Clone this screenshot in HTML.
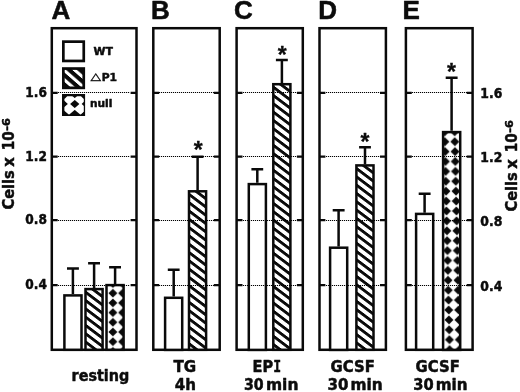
<!DOCTYPE html>
<html lang="en"><head><meta charset="utf-8"><title>Figure</title>
<style>html,body{margin:0;padding:0;background:#fff}svg{display:block;filter:blur(.32px)}text{font-family:"DejaVu Sans Condensed","DejaVu Sans","Liberation Sans",sans-serif;font-weight:bold;font-stretch:condensed;fill:#0c0c0c;stroke:#0c0c0c;stroke-width:.45px;stroke-linejoin:round}.t{font-family:"Liberation Sans","DejaVu Sans",sans-serif;font-size:26px;stroke-width:.55px}.x{font-size:15.4px}.k{font-size:13.9px}.l{font-size:10.6px}.ln{stroke:#0a0a0a;stroke-width:2.5;fill:none;stroke-linecap:butt}.dot{stroke:#000;stroke-width:1.15;stroke-dasharray:1.15 .85;fill:none}</style></head><body>
<svg width="520" height="392" viewBox="0 0 520 392">
<defs>
<pattern id="h0" width="20" height="8.3" patternUnits="userSpaceOnUse"><rect width="20" height="8.3" fill="#fff"/><rect width="20" height="3.6" fill="#0a0a0a"/></pattern>
<pattern id="d0" width="9.8" height="9.8" patternUnits="userSpaceOnUse"><rect width="9.8" height="9.8" fill="#fff"/><polygon points="4.9,0.5 9.3,4.9 4.9,9.3 0.5,4.9" fill="#0a0a0a"/></pattern>
</defs>
<rect width="520" height="392" fill="#fff"/>
<defs><pattern id="h1" href="#h0" patternTransform="translate(84.3 289.4) skewY(37)"/><pattern id="h2" width="9.70" height="9.70" patternUnits="userSpaceOnUse" patternTransform="translate(108.05 288.35)"><rect width="9.70" height="9.70" fill="#fff"/><polygon points="4.85,0.40 9.30,4.85 4.85,9.30 0.40,4.85" fill="#0a0a0a"/></pattern><pattern id="h3" href="#h0" patternTransform="translate(187.8 191.6) skewY(37)"/><pattern id="h4" href="#h0" patternTransform="translate(272.1 84.4) skewY(37)"/><pattern id="h5" href="#h0" patternTransform="translate(355.2 165.7) skewY(37)"/><pattern id="h6" width="9.90" height="9.90" patternUnits="userSpaceOnUse" patternTransform="translate(439.85 136.75) skewX(1.306)"><rect width="9.90" height="9.90" fill="#fff"/><polygon points="4.95,0.50 9.40,4.95 4.95,9.40 0.50,4.95" fill="#0a0a0a"/></pattern><pattern id="lh" width="20" height="9.4" patternUnits="userSpaceOnUse" patternTransform="translate(62 61.0) skewY(41)"><rect width="20" height="9.4" fill="#fff"/><rect width="20" height="5.3" fill="#0a0a0a"/></pattern><clipPath id="lc"><polygon points="67.2,96.2 81,96.2 83.8,99 83.8,112 81,114.8 67.2,114.8 64.4,112 64.4,99"/></clipPath></defs>
<rect class="ln" x="51.8" y="28.2" width="84.7" height="321.6"/>
<rect class="ln" x="153.3" y="28.2" width="66.4" height="321.6"/>
<rect class="ln" x="236.6" y="28.2" width="66.2" height="321.6"/>
<rect class="ln" x="319.5" y="28.2" width="66.4" height="321.6"/>
<rect class="ln" x="405.9" y="28.2" width="66.7" height="321.6"/>
<path class="ln" d="M72.9 294.1V268.4M67.0 268.4H78.9"/>
<rect class="ln" style="fill:#fff" x="64.4" y="295.4" width="17.1" height="54.4"/>
<path class="ln" d="M94.1 287.9V263.3M88.1 263.3H100.0"/>
<rect class="ln" style="fill:url(#h1)" x="85.5" y="289.1" width="17.1" height="60.7"/>
<path class="ln" d="M115.1 283.9V267.3M109.1 267.3H121.0"/>
<rect class="ln" style="fill:url(#h2)" x="106.5" y="285.1" width="17.1" height="64.7"/>
<path class="ln" d="M173.7 296.5V269.8M167.8 269.8H179.6"/>
<rect class="ln" style="fill:#fff" x="165.1" y="297.8" width="17.1" height="52.1"/>
<path class="ln" d="M197.6 190.1V156.7M191.7 156.7H203.5"/>
<rect class="ln" style="fill:url(#h3)" x="189.0" y="191.3" width="17.1" height="158.5"/>
<path class="ln" d="M257.3 182.8V169.2M251.4 169.2H263.2"/>
<rect class="ln" style="fill:#fff" x="248.8" y="184.1" width="17.1" height="165.8"/>
<path class="ln" d="M281.9 82.9V59.9M275.9 59.9H287.8"/>
<rect class="ln" style="fill:url(#h4)" x="273.3" y="84.2" width="17.1" height="265.6"/>
<path class="ln" d="M338.6 246.4V210.3M332.7 210.3H344.6"/>
<rect class="ln" style="fill:#fff" x="330.1" y="247.7" width="17.1" height="102.2"/>
<path class="ln" d="M365.0 164.2V147.3M359.1 147.3H370.9"/>
<rect class="ln" style="fill:url(#h5)" x="356.4" y="165.4" width="17.1" height="184.4"/>
<path class="ln" d="M424.6 212.7V193.8M418.7 193.8H430.6"/>
<rect class="ln" style="fill:#fff" x="416.1" y="213.9" width="17.1" height="135.9"/>
<path class="ln" d="M451.6 130.8V77.7M445.7 77.7H457.6"/>
<rect class="ln" style="fill:url(#h6)" x="443.1" y="132.1" width="17.1" height="217.8"/>
<path class="dot" d="M58 285.5H130"/>
<path class="ln" d="M51.8 285.1h5.9M136.5 285.1h-5.9" style="stroke-width:2.3"/>
<path class="dot" d="M58 220.5H130"/>
<path class="ln" d="M51.8 220.2h5.9M136.5 220.2h-5.9" style="stroke-width:2.3"/>
<path class="dot" d="M58 156.5H130"/>
<path class="ln" d="M51.8 156.6h5.9M136.5 156.6h-5.9" style="stroke-width:2.3"/>
<path class="dot" d="M58 92.5H130"/>
<path class="ln" d="M51.8 92.8h5.9M136.5 92.8h-5.9" style="stroke-width:2.3"/>
<path class="dot" d="M159 285.5H214"/>
<path class="ln" d="M153.3 285.1h5.9M219.7 285.1h-5.9" style="stroke-width:2.3"/>
<path class="dot" d="M159 220.5H214"/>
<path class="ln" d="M153.3 220.2h5.9M219.7 220.2h-5.9" style="stroke-width:2.3"/>
<path class="dot" d="M159 156.5H214"/>
<path class="ln" d="M153.3 156.6h5.9M219.7 156.6h-5.9" style="stroke-width:2.3"/>
<path class="dot" d="M159 92.5H214"/>
<path class="ln" d="M153.3 92.8h5.9M219.7 92.8h-5.9" style="stroke-width:2.3"/>
<path class="dot" d="M243 285.5H297"/>
<path class="ln" d="M236.6 285.1h5.9M302.8 285.1h-5.9" style="stroke-width:2.3"/>
<path class="dot" d="M243 220.5H297"/>
<path class="ln" d="M236.6 220.2h5.9M302.8 220.2h-5.9" style="stroke-width:2.3"/>
<path class="dot" d="M243 156.5H297"/>
<path class="ln" d="M236.6 156.6h5.9M302.8 156.6h-5.9" style="stroke-width:2.3"/>
<path class="dot" d="M243 92.5H297"/>
<path class="ln" d="M236.6 92.8h5.9M302.8 92.8h-5.9" style="stroke-width:2.3"/>
<path class="dot" d="M326 285.5H380"/>
<path class="ln" d="M319.5 285.1h5.9M385.9 285.1h-5.9" style="stroke-width:2.3"/>
<path class="dot" d="M326 220.5H380"/>
<path class="ln" d="M319.5 220.2h5.9M385.9 220.2h-5.9" style="stroke-width:2.3"/>
<path class="dot" d="M326 156.5H380"/>
<path class="ln" d="M319.5 156.6h5.9M385.9 156.6h-5.9" style="stroke-width:2.3"/>
<path class="dot" d="M326 92.5H380"/>
<path class="ln" d="M319.5 92.8h5.9M385.9 92.8h-5.9" style="stroke-width:2.3"/>
<path class="dot" d="M412 285.5H467"/>
<path class="ln" d="M405.9 285.1h5.9M472.6 285.1h-5.9" style="stroke-width:2.3"/>
<path class="dot" d="M412 220.5H467"/>
<path class="ln" d="M405.9 220.2h5.9M472.6 220.2h-5.9" style="stroke-width:2.3"/>
<path class="dot" d="M412 156.5H467"/>
<path class="ln" d="M405.9 156.6h5.9M472.6 156.6h-5.9" style="stroke-width:2.3"/>
<path class="dot" d="M412 92.5H467"/>
<path class="ln" d="M405.9 92.8h5.9M472.6 92.8h-5.9" style="stroke-width:2.3"/>
<rect class="ln" style="fill:#fff;stroke-width:2.7" x="63.35" y="41.65" width="20.40" height="19.30"/>
<rect class="ln" style="fill:url(#lh);stroke-width:2.7" x="63.35" y="68.55" width="20.40" height="19.30"/>
<rect class="ln" style="fill:#0a0a0a;stroke-width:2.7" x="63.35" y="95.35" width="20.40" height="19.30"/>
<g clip-path="url(#lc)" fill="#fff"><polygon points="62.2,99.0 69.0,93.1 75.8,99.0 69.0,104.9"/><polygon points="62.2,108.9 69.0,103.0 75.8,108.9 69.0,114.8"/><polygon points="73.7,99.0 80.5,93.1 87.3,99.0 80.5,104.9"/><polygon points="73.7,108.9 80.5,103.0 87.3,108.9 80.5,114.8"/></g>
<text class="l" x="93.6" y="55" textLength="19.4" lengthAdjust="spacingAndGlyphs">WT</text>
<text transform="translate(90.4 80.0) scale(1.376 0.99)" style="font-weight:normal;font-stretch:normal;font-size:10px;font-family:'DejaVu Sans',sans-serif;stroke-width:.35px">△</text>
<text class="l" x="101.7" y="81.3" textLength="15.4" lengthAdjust="spacingAndGlyphs" style="font-size:11px">P1</text>
<text class="l" x="89.9" y="107.3" textLength="22.4" lengthAdjust="spacingAndGlyphs" style="font-size:10.4px">null</text>
<text class="t" x="51.6" y="19.2">A</text>
<text class="t" x="151.0" y="19.2">B</text>
<text class="t" x="234.0" y="19.2">C</text>
<text class="t" x="318.2" y="19.2">D</text>
<text class="t" x="402.6" y="19.2">E</text>
<text x="198.2" y="157.7" text-anchor="middle" style="font-family:'Liberation Sans',sans-serif;font-size:23px;stroke-width:.3px">*</text>
<text x="282.2" y="62.8" text-anchor="middle" style="font-family:'Liberation Sans',sans-serif;font-size:23px;stroke-width:.3px">*</text>
<text x="365.0" y="149.9" text-anchor="middle" style="font-family:'Liberation Sans',sans-serif;font-size:23px;stroke-width:.3px">*</text>
<text x="451.5" y="79.7" text-anchor="middle" style="font-family:'Liberation Sans',sans-serif;font-size:23px;stroke-width:.3px">*</text>
<text class="k" x="25.3" y="289.2" textLength="21.6" lengthAdjust="spacingAndGlyphs">0.4</text>
<text class="k" x="480.3" y="290.7" textLength="22" lengthAdjust="spacingAndGlyphs">0.4</text>
<text class="k" x="25.3" y="224.3" textLength="21.6" lengthAdjust="spacingAndGlyphs">0.8</text>
<text class="k" x="480.3" y="225.8" textLength="22" lengthAdjust="spacingAndGlyphs">0.8</text>
<text class="k" x="25.3" y="160.7" textLength="21.6" lengthAdjust="spacingAndGlyphs">1.2</text>
<text class="k" x="480.3" y="162.2" textLength="22" lengthAdjust="spacingAndGlyphs">1.2</text>
<text class="k" x="25.3" y="96.9" textLength="21.6" lengthAdjust="spacingAndGlyphs">1.6</text>
<text class="k" x="480.3" y="98.4" textLength="22" lengthAdjust="spacingAndGlyphs">1.6</text>
<g transform="translate(14.2 209.6) rotate(-90)"><text class="x" x="0" y="0" textLength="39.4" lengthAdjust="spacingAndGlyphs">Cells</text><text class="x" x="42.9" y="0" textLength="9.6" lengthAdjust="spacingAndGlyphs">x</text><text class="x" x="59.4" y="0" textLength="19" lengthAdjust="spacingAndGlyphs">10</text><text class="x" x="78.8" y="-4.1" textLength="12.6" lengthAdjust="spacingAndGlyphs" style="font-size:9.8px">-6</text></g>
<g transform="translate(517.0 211.6) rotate(-90)"><text class="x" x="0" y="0" textLength="39.4" lengthAdjust="spacingAndGlyphs">Cells</text><text class="x" x="42.9" y="0" textLength="9.6" lengthAdjust="spacingAndGlyphs">x</text><text class="x" x="59.4" y="0" textLength="19" lengthAdjust="spacingAndGlyphs">10</text><text class="x" x="78.8" y="-4.1" textLength="12.6" lengthAdjust="spacingAndGlyphs" style="font-size:9.8px">-6</text></g>
<text class="x" x="71.6" y="381.3" textLength="57.6" lengthAdjust="spacingAndGlyphs">resting</text>
<text class="x" x="173.4" y="371.7" textLength="22.7" lengthAdjust="spacingAndGlyphs">TG</text>
<text class="x" x="174.8" y="389.6" textLength="21.2" lengthAdjust="spacingAndGlyphs">4h</text>
<text class="x" x="252.6" y="371.7" textLength="20.6" lengthAdjust="spacingAndGlyphs">EP</text>
<text class="x" x="273.3" y="371.7" textLength="7.9" lengthAdjust="spacingAndGlyphs" style="font-family:'DejaVu Sans Mono','Liberation Mono',monospace">I</text>
<text class="x" x="244.0" y="389.6" textLength="19.7" lengthAdjust="spacingAndGlyphs">30</text>
<text class="x" x="266.0" y="389.6" textLength="32.4" lengthAdjust="spacingAndGlyphs">min</text>
<text class="x" x="330.6" y="371.7" textLength="44.2" lengthAdjust="spacingAndGlyphs">GCSF</text>
<text class="x" x="327.5" y="389.6" textLength="20.9" lengthAdjust="spacingAndGlyphs">30</text>
<text class="x" x="350.4" y="389.6" textLength="32.2" lengthAdjust="spacingAndGlyphs">min</text>
<text class="x" x="415.6" y="371.7" textLength="44.2" lengthAdjust="spacingAndGlyphs">GCSF</text>
<text class="x" x="413.2" y="389.6" textLength="20.4" lengthAdjust="spacingAndGlyphs">30</text>
<text class="x" x="435.8" y="389.6" textLength="31.8" lengthAdjust="spacingAndGlyphs">min</text>
</svg></body></html>
